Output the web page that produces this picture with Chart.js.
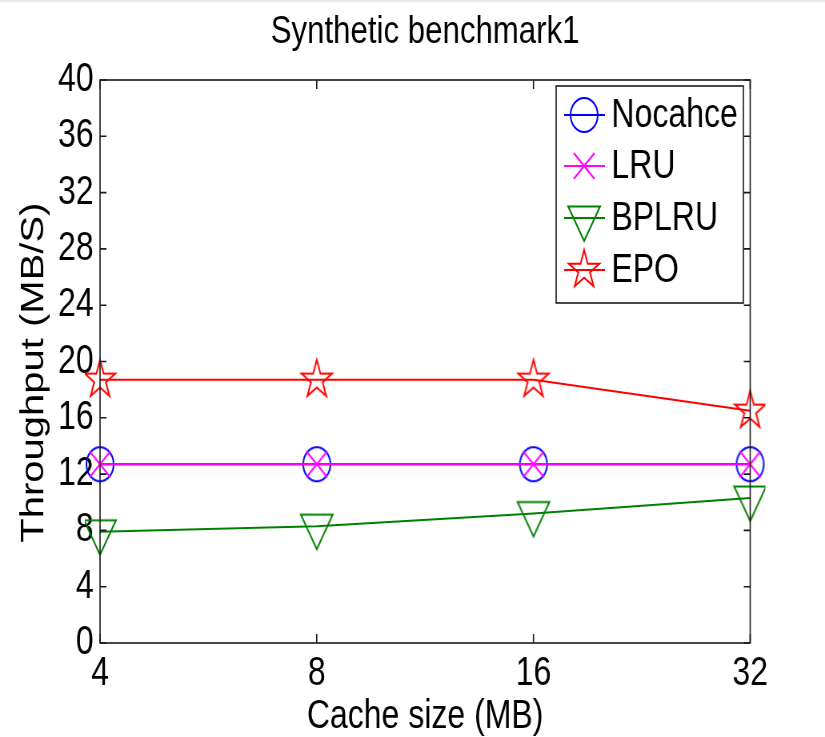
<!DOCTYPE html>
<html>
<head>
<meta charset="utf-8">
<title>Synthetic benchmark1</title>
<script src="https://cdn.jsdelivr.net/npm/chart.js@4.4.1/dist/chart.umd.min.js"></script>
<style>
  html, body { margin: 0; padding: 0; background: #fff; }
  #wrap { width: 825px; height: 737px; overflow: hidden; }
  canvas { display: block; }
</style>
</head>
<body>
<div id="wrap">
  <!-- drawn on a wider canvas and shown at 825px, giving the narrow, tall lettering of the figure -->
  <canvas id="c" width="1031" height="737" style="width:825px;height:737px"></canvas>
</div>
<script>
// ---- data ----
const cacheSizes   = ['4', '8', '16', '32'];
const seriesNames  = ['Nocahce', 'LRU', 'BPLRU', 'EPO'];
const nocacheValues = [12.7, 12.7, 12.7, 12.7];
const lruValues     = [12.7, 12.7, 12.7, 12.7];
const bplruValues   = [7.9, 8.3, 9.2, 10.3];
const epoValues     = [18.7, 18.7, 18.7, 16.5];
const yTickValues   = [0, 4, 8, 12, 16, 20, 24, 28, 32, 36, 40];

const FONT = "Arial, 'Liberation Sans', Helvetica, sans-serif";

// ---- marker glyphs (hollow, MATLAB style) ----
function makeMarker(kind, color) {
  const size = 52;
  const cv = document.createElement('canvas');
  cv.width = size; cv.height = size;
  const g = cv.getContext('2d');
  const c = size / 2;
  g.strokeStyle = color;
  g.lineWidth = 2;
  g.lineJoin = 'miter';
  g.beginPath();
  if (kind === 'circle') {
    g.arc(c, c, 17, 0, Math.PI * 2);
  } else if (kind === 'x') {
    const a = 13;
    g.moveTo(c - a, c - a); g.lineTo(c + a, c + a);
    g.moveTo(c + a, c - a); g.lineTo(c - a, c + a);
  } else if (kind === 'vtriangle') {
    const r = 23;
    for (let i = 0; i < 3; i++) {
      const ang = Math.PI / 2 + i * 2 * Math.PI / 3;   // apex pointing down
      const px = c + r * Math.cos(ang), py = c + r * Math.sin(ang);
      if (i === 0) g.moveTo(px, py); else g.lineTo(px, py);
    }
    g.closePath();
  } else if (kind === 'pentagram') {
    const R = 20, r = R * 0.382;
    for (let i = 0; i < 10; i++) {
      const rad = (i % 2 === 0) ? R : r;
      const ang = -Math.PI / 2 + i * Math.PI / 5;
      const px = c + rad * Math.cos(ang), py = c + rad * Math.sin(ang);
      if (i === 0) g.moveTo(px, py); else g.lineTo(px, py);
    }
    g.closePath();
  }
  g.stroke();
  return cv;
}

const seriesColors  = ['#0000ff', '#ff00ff', '#008000', '#ff0000'];
const seriesMarkers = [
  makeMarker('circle', seriesColors[0]),
  makeMarker('x', seriesColors[1]),
  makeMarker('vtriangle', seriesColors[2]),
  makeMarker('pentagram', seriesColors[3])
];
const seriesValues = [nocacheValues, lruValues, bplruValues, epoValues];

// ---- axes box with inward ticks on all four sides ----
const axesBox = {
  id: 'axesBox',
  afterDatasetsDraw(chart) {
    const { ctx, chartArea: { left, right, top, bottom }, scales: { x, y } } = chart;
    ctx.save();
    ctx.strokeStyle = '#1a1a1a';
    ctx.lineWidth = 1.6;
    ctx.strokeRect(left, top, right - left, bottom - top);
    ctx.beginPath();
    y.ticks.forEach(t => {
      const py = y.getPixelForValue(t.value);
      ctx.moveTo(left, py);  ctx.lineTo(left + 8, py);
      ctx.moveTo(right, py); ctx.lineTo(right - 8, py);
    });
    x.ticks.forEach((t, i) => {
      const px = x.getPixelForTick(i);
      ctx.moveTo(px, bottom); ctx.lineTo(px, bottom - 9);
      ctx.moveTo(px, top);    ctx.lineTo(px, top + 9);
    });
    ctx.stroke();
    ctx.restore();
  }
};

// ---- boxed legend in the upper right of the axes ----
const boxedLegend = {
  id: 'boxedLegend',
  afterDraw(chart) {
    const { ctx } = chart;
    const bx = 695, by = 86, bw = 234, bh = 217;
    const rows = [115, 166, 218, 270];
    ctx.save();
    ctx.fillStyle = '#fff';
    ctx.fillRect(bx, by, bw, bh);
    ctx.strokeStyle = '#1a1a1a';
    ctx.lineWidth = 1.6;
    ctx.strokeRect(bx, by, bw, bh);
    chart.data.datasets.forEach((ds, i) => {
      const yy = rows[i];
      ctx.strokeStyle = ds.borderColor;
      ctx.lineWidth = 2;
      ctx.beginPath();
      ctx.moveTo(705, yy); ctx.lineTo(756, yy);
      ctx.stroke();
      const m = ds.pointStyle;
      ctx.drawImage(m, 730 - m.width / 2, yy - m.height / 2);
      ctx.fillStyle = '#000';
      ctx.font = '40px ' + FONT;
      ctx.textAlign = 'left';
      ctx.textBaseline = 'middle';
      ctx.fillText(ds.label, 764, yy + 1);
    });
    // thin light strip along the top edge of the figure
    ctx.fillStyle = '#e9e9e9';
    ctx.fillRect(0, 0, chart.width, 2);
    ctx.restore();
  }
};

const datasets = seriesNames.map((name, i) => ({
  label: name,
  data: seriesValues[i],
  borderColor: seriesColors[i],
  backgroundColor: seriesColors[i],
  borderWidth: 2,
  tension: 0,
  fill: false,
  pointStyle: seriesMarkers[i],
  pointRadius: 17,
  pointHoverRadius: 17,
  order: seriesNames.length - i
}));

new Chart(document.getElementById('c'), {
  type: 'line',
  data: { labels: cacheSizes, datasets },
  options: {
    responsive: false,
    animation: false,
    devicePixelRatio: 1,
    events: [],
    layout: { padding: { left: 18.5, right: 93.5, top: 8.6, bottom: 0 } },
    plugins: {
      legend: { display: false },
      tooltip: { enabled: false },
      title: {
        display: true,
        text: 'Synthetic benchmark1',
        color: '#000',
        fullSize: false,
        font: { family: FONT, size: 39, weight: 'normal' },
        padding: { top: 0, bottom: 24.6 }
      }
    },
    scales: {
      x: {
        type: 'category',
        offset: false,
        grid: { display: false, drawTicks: false },
        border: { display: false },
        ticks: { color: '#000', font: { family: FONT, size: 40 }, padding: 7, maxRotation: 0, autoSkip: false },
        title: { display: true, text: 'Cache size (MB)', color: '#000',
                 font: { family: FONT, size: 40 }, padding: { top: 0, bottom: -4 } },
        afterFit: s => { s.height = 94; }
      },
      y: {
        min: 0,
        max: 40,
        grid: { display: false, drawTicks: false },
        border: { display: false },
        afterBuildTicks: s => { s.ticks = yTickValues.map(v => ({ value: v })); },
        ticks: { color: '#000', font: { family: FONT, size: 40 }, padding: 8 },
        title: { display: true, text: 'Throughput (MB/S)  ', color: '#000',
                 font: { family: FONT, size: 40 }, padding: { top: 0, bottom: 0 } },
        afterFit: s => { s.width = 106.5; }
      }
    }
  },
  plugins: [axesBox, boxedLegend]
});
</script>
</body>
</html>
